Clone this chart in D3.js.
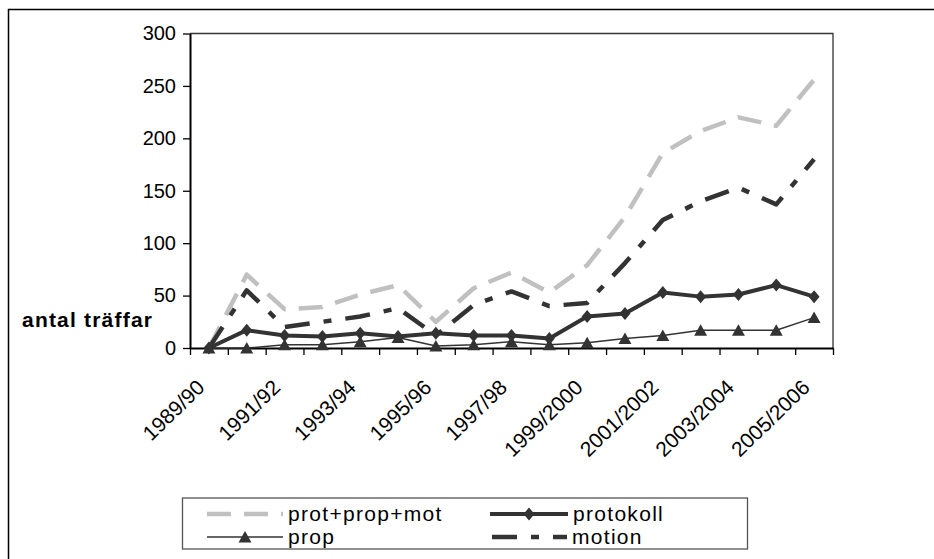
<!DOCTYPE html>
<meta charset="utf-8">
<script src="https://d3js.org/d3.v7.min.js"></script>
<style>
    body { margin: 0; background: #fff; }
    text { font-family: "Liberation Sans", Arial, sans-serif; }
</style>
<div id="canvas"></div>

<script>
    const width = 934;
    const height = 559;

    // Data
    const categories = ["1989/90", "1990/91", "1991/92", "1992/93", "1993/94", "1994/95", "1995/96",
        "1996/97", "1997/98", "1998/99", "1999/2000", "2000/2001", "2001/2002", "2002/2003",
        "2003/2004", "2004/2005", "2005/2006"];
    const total = [0, 70, 37, 39, 51, 60, 25, 57, 72, 53, 79, 125, 186, 207, 220, 212, 256];
    const protokoll = [0, 17, 12, 11, 14, 11, 14, 12, 12, 9, 30, 33, 53, 49, 51, 60, 49];
    const prop = [0, 0, 3, 3, 6, 10, 2, 3, 6, 3, 5, 9, 12, 17, 17, 17, 29];
    const motion = [0, 55, 20, 25, 30, 38, 12, 41, 54, 40, 43, 81, 122, 140, 153, 137, 180];
    const yTicks = [0, 50, 100, 150, 200, 250, 300];

    const plot = {left: 190, top: 33.5, right: 833, bottom: 348};
    const dark = "#333333";

    const svg = d3.select("#canvas")
        .append("svg")
        .attr("width", width)
        .attr("height", height);

    // outer frame (runs off the right and bottom edge)
    svg.append("rect")
        .attr("x", 8.5).attr("y", 9.5)
        .attr("width", 1000).attr("height", 1000)
        .attr("fill", "none")
        .attr("stroke", "#000")
        .attr("stroke-width", 1.5);

    const x = d3.scaleBand()
        .domain(categories)
        .range([plot.left, plot.right]);
    const xTick = d3.scaleLinear()
        .domain([0, categories.length])
        .range([plot.left, plot.right]);
    const y = d3.scaleLinear()
        .domain([0, 300])
        .range([plot.bottom, plot.top]);
    const cx = d => x(d) + x.bandwidth() / 2;

    // plot frame top/right
    svg.append("path")
        .attr("d", `M${plot.left},${plot.top}H${plot.right}V${plot.bottom}`)
        .attr("fill", "none")
        .attr("stroke", dark)
        .attr("stroke-width", 1.3);

    // y axis
    const yAxis = svg.append("g")
        .attr("transform", `translate(${plot.left},0)`)
        .call(d3.axisLeft(y).tickValues(yTicks).tickSize(7).tickPadding(7).tickSizeOuter(0));
    yAxis.select(".domain").attr("stroke", "#000").attr("stroke-width", 2);
    yAxis.selectAll(".tick line").attr("stroke", "#000").attr("stroke-width", 1.3);
    yAxis.selectAll(".tick text")
        .attr("font-size", 20)
        .attr("fill", "#000")
        .attr("font-family", "Liberation Sans, Arial, sans-serif");

    // x axis
    const xAxis = svg.append("g")
        .attr("transform", `translate(0,${plot.bottom})`)
        .call(d3.axisBottom(xTick).ticks(categories.length).tickSize(7).tickFormat("").tickSizeOuter(0));
    xAxis.select(".domain").attr("stroke", "#000").attr("stroke-width", 2);
    xAxis.selectAll(".tick line").attr("stroke", "#000").attr("stroke-width", 1.3);

    // rotated category labels, every second one
    svg.append("g")
        .selectAll("text")
        .data(categories.filter((d, i) => i % 2 === 0))
        .enter()
        .append("text")
        .attr("transform", d => `translate(${cx(d) - 3},${plot.bottom + 41}) rotate(-44)`)
        .attr("text-anchor", "end")
        .attr("font-size", 21)
        .attr("fill", "#000")
        .text(d => d);

    // axis title
    svg.append("text")
        .attr("x", 22)
        .attr("y", 327)
        .attr("font-size", 21)
        .attr("font-weight", "bold")
        .attr("letter-spacing", 1.2)
        .attr("fill", "#000")
        .text("antal träffar");

    const line = values => d3.line()
        .x((d, i) => cx(categories[i]))
        .y(d => y(d))(values);

    const diamond = (px, py) => `M${px},${py - 6.5}L${px + 5.5},${py}L${px},${py + 6.5}L${px - 5.5},${py}Z`;
    const triangle = (px, py) => `M${px},${py - 6}L${px + 6.5},${py + 5.5}L${px - 6.5},${py + 5.5}Z`;

    const series = [
        {name: "prot+prop+mot", values: total, color: "#c0c0c0", width: 4.5, dash: "24,13", marker: null},
        {name: "motion", values: motion, color: dark, width: 4.5, dash: "25,14,8,14", marker: null},
        {name: "protokoll", values: protokoll, color: dark, width: 4, dash: null, marker: diamond},
        {name: "prop", values: prop, color: dark, width: 1.5, dash: null, marker: triangle}
    ];

    for (const s of series) {
        svg.append("path")
            .attr("d", line(s.values))
            .attr("fill", "none")
            .attr("stroke", s.color)
            .attr("stroke-width", s.width)
            .attr("stroke-dasharray", s.dash)
            .attr("stroke-linejoin", "round");

        if (s.marker) {
            svg.append("g")
                .selectAll("path")
                .data(s.values)
                .enter()
                .append("path")
                .attr("d", (d, i) => s.marker(cx(categories[i]), y(d)))
                .attr("fill", s.color);
        }
    }

    // legend
    const legend = svg.append("g");
    legend.append("rect")
        .attr("x", 182.5).attr("y", 498)
        .attr("width", 565).attr("height", 51)
        .attr("fill", "#fff")
        .attr("stroke", "#555")
        .attr("stroke-width", 1.3);

    const legendItems = [
        {s: series[0], x0: 207, x1: 283, y: 514},
        {s: series[2], x0: 490, x1: 568, y: 514},
        {s: series[3], x0: 207, x1: 283, y: 537},
        {s: series[1], x0: 492, x1: 567, y: 537}
    ];

    for (const it of legendItems) {
        legend.append("line")
            .attr("x1", it.x0).attr("x2", it.x1)
            .attr("y1", it.y).attr("y2", it.y)
            .attr("stroke", it.s.color)
            .attr("stroke-width", it.s.width)
            .attr("stroke-dasharray", it.s.dash);
        if (it.s.marker) {
            legend.append("path")
                .attr("d", it.s.marker((it.x0 + it.x1) / 2, it.y))
                .attr("fill", it.s.color);
        }
        legend.append("text")
            .attr("x", it.x1 + 5)
            .attr("y", it.y + 7)
            .attr("font-size", 21)
            .attr("letter-spacing", 1.3)
            .attr("fill", "#000")
            .text(it.s.name);
    }
</script>
